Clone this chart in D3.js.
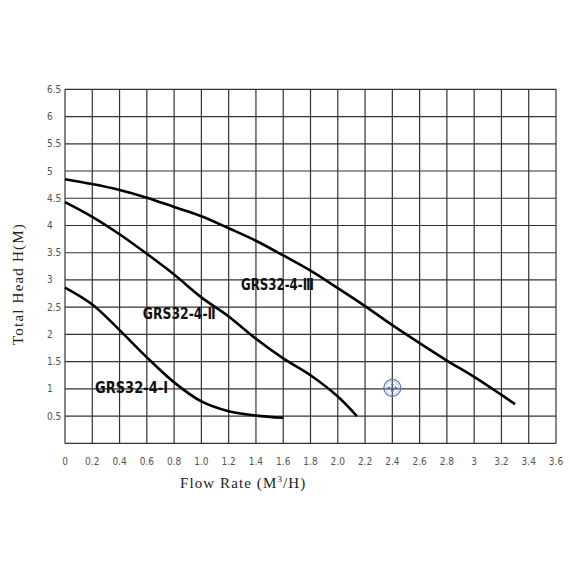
<!DOCTYPE html>
<html>
<head>
<meta charset="utf-8">
<script src="https://cdn.jsdelivr.net/npm/d3@7"></script>
<style>
  html, body { margin: 0; padding: 0; background: #fff; }
  svg { display: block; }
</style>
</head>
<body>
<div id="chart"></div>
<script>
// pump curves, flow (m3/h) vs head (m)
var curveI = [[0, 2.86], [0.2, 2.55], [0.4, 2.08], [0.6, 1.58], [0.8, 1.12], [1.0, 0.77], [1.2, 0.59], [1.4, 0.51], [1.6, 0.47]]
var curveII = [[0, 4.43], [0.2, 4.16], [0.4, 3.84], [0.6, 3.48], [0.8, 3.1], [1.0, 2.68], [1.2, 2.33], [1.4, 1.92], [1.6, 1.56], [1.8, 1.25], [2.0, 0.86], [2.14, 0.5]]
var curveIII = [[0, 4.85], [0.2, 4.76], [0.4, 4.65], [0.6, 4.51], [0.8, 4.34], [1.0, 4.17], [1.2, 3.95], [1.4, 3.72], [1.6, 3.45], [1.8, 3.17], [2.0, 2.85], [2.2, 2.52], [2.4, 2.17], [2.6, 1.84], [2.8, 1.52], [3.0, 1.22], [3.2, 0.89], [3.3, 0.72]]

var seriesNames = ['GRS32-4-Ⅰ', 'GRS32-4-Ⅱ', 'GRS32-4-Ⅲ']
// where each name sits (baseline), in data units
var labelAt = [[0.22, 0.92], [0.57, 2.28], [1.29, 2.81]]

var xTicks = [0, 0.2, 0.4, 0.6, 0.8, 1.0, 1.2, 1.4, 1.6, 1.8, 2.0, 2.2, 2.4, 2.6, 2.8, 3.0, 3.2, 3.4, 3.6]
var xTickLabels = ['0', '0.2', '0.4', '0.6', '0.8', '1.0', '1.2', '1.4', '1.6', '1.8', '2.0', '2.2', '2.4', '2.6', '2.8', '3', '3.2', '3.4', '3.6']
var yTicks = [0.5, 1, 1.5, 2, 2.5, 3, 3.5, 4, 4.5, 5, 5.5, 6, 6.5]
var yTickLabels = ['0.5', '1', '1.5', '2', '2.5', '3', '3.5', '4', '4.5', '5', '5.5', '6', '6.5']

;(function() {
	var width = 570
	var height = 570
	var plotLeft = 65, plotRight = 556, plotTop = 89.3, plotBottom = 443.4

	var svg = d3.select('#chart').append('svg')
		.attr('width', width)
		.attr('height', height)

	svg.append('rect').attr('width', width).attr('height', height).attr('fill', '#fff')

	var x = d3.scaleLinear().domain([0, 3.6]).range([plotLeft, plotRight])
	var y = d3.scaleLinear().domain([0, 6.5]).range([plotBottom, plotTop])

	// grid
	var grid = svg.append('g').attr('stroke', '#333').attr('stroke-width', 1.2)
	grid.selectAll('.vg')
		.data(xTicks)
		.enter().append('line')
			.attr('x1', function(d) { return x(d) })
			.attr('x2', function(d) { return x(d) })
			.attr('y1', y(0))
			.attr('y2', y(6.5))
	grid.selectAll('.hg')
		.data([0].concat(yTicks))
		.enter().append('line')
			.attr('x1', x(0))
			.attr('x2', x(3.6))
			.attr('y1', function(d) { return y(d) })
			.attr('y2', function(d) { return y(d) })

	// tick labels
	var tickFont = '"DejaVu Sans Condensed", "DejaVu Sans", sans-serif'
	svg.append('g').selectAll('text')
		.data(xTicks)
		.enter().append('text')
			.attr('x', function(d) { return x(d) })
			.attr('y', 465)
			.attr('text-anchor', 'middle')
			.attr('font-family', tickFont)
			.attr('font-stretch', 'condensed')
			.attr('font-size', 10)
			.attr('fill', '#555')
			.text(function(d, i) { return xTickLabels[i] })

	svg.append('g').selectAll('text')
		.data(yTicks)
		.enter().append('text')
			.attr('x', 47)
			.attr('y', function(d) { return y(d) + 3.5 })
			.attr('font-family', tickFont)
			.attr('font-stretch', 'condensed')
			.attr('font-size', 10)
			.attr('fill', '#555')
			.text(function(d, i) { return yTickLabels[i] })

	// axis titles
	var serif = '"Liberation Serif", "DejaVu Serif", serif'
	var xt = svg.append('text')
		.attr('x', 180)
		.attr('y', 488)
		.attr('font-family', serif)
		.attr('font-size', 15)
		.attr('fill', '#222')
		.attr('letter-spacing', 1.1)
	xt.append('tspan').text('Flow Rate (M')
	xt.append('tspan').attr('dy', -6).attr('font-size', 9).text('3')
	xt.append('tspan').attr('dy', 6).text('/H)')

	svg.append('text')
		.attr('transform', 'translate(23,' + 284 + ') rotate(-90)')
		.attr('text-anchor', 'middle')
		.attr('font-family', serif)
		.attr('font-size', 15)
		.attr('fill', '#222')
		.attr('letter-spacing', 1.2)
		.text('Total Head H(M)')

	// curves
	var line = d3.line()
		.x(function(d) { return x(d[0]) })
		.y(function(d) { return y(d[1]) })
		.curve(d3.curveCatmullRom.alpha(0.5))

	svg.append('g').selectAll('path')
		.data([curveI, curveII, curveIII])
		.enter().append('path')
			.attr('d', line)
			.attr('fill', 'none')
			.attr('stroke', '#000')
			.attr('stroke-width', 2.6)
			.attr('stroke-linecap', 'butt')

	svg.append('g').selectAll('text')
		.data(seriesNames)
		.enter().append('text')
			.attr('x', function(d, i) { return x(labelAt[i][0]) })
			.attr('y', function(d, i) { return y(labelAt[i][1]) })
			.attr('font-family', '"DejaVu Sans Condensed", "DejaVu Sans", sans-serif')
			.attr('font-stretch', 'condensed')
			.attr('font-weight', 'bold')
			.attr('font-size', 15)
			.attr('textLength', 73)
			.attr('lengthAdjust', 'spacingAndGlyphs')
			.attr('fill', '#111')
			.text(function(d) { return d })

	// little blue move cursor sitting on the grid
	var icon = svg.append('g')
		.attr('transform', 'translate(' + x(2.4) + ',' + y(1.02) + ')')
		.attr('fill', 'none')
		.attr('stroke', '#4f74ad')
	icon.append('circle').attr('r', 8.5).attr('stroke-width', 1.2)
	icon.append('circle').attr('r', 6.5).attr('stroke-width', 0.8).attr('stroke', '#9fb4d6')
	var arrows = [[0, -5, -2, -2.5, 2, -2.5], [0, 5, -2, 2.5, 2, 2.5], [-5, 0, -2.5, -2, -2.5, 2], [5, 0, 2.5, -2, 2.5, 2]]
	icon.selectAll('path')
		.data(arrows)
		.enter().append('path')
			.attr('d', function(a) { return 'M' + a[0] + ',' + a[1] + 'L' + a[2] + ',' + a[3] + 'L' + a[4] + ',' + a[5] + 'Z' })
			.attr('fill', '#4f74ad')
			.attr('stroke', 'none')
	icon.append('circle').attr('r', 1.3).attr('fill', '#4f74ad').attr('stroke', 'none')
})()
</script>
</body>
</html>
